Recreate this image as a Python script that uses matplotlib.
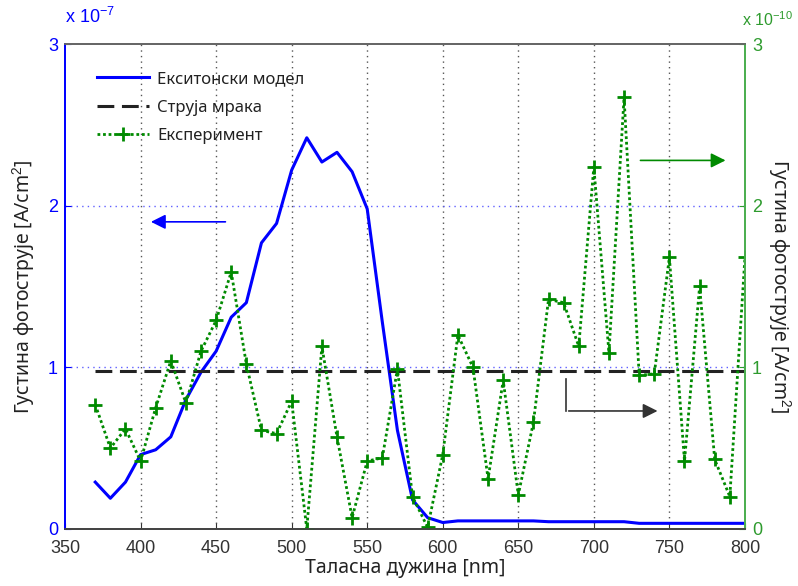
import numpy as np
import matplotlib
matplotlib.use("Agg")
import matplotlib.pyplot as plt

# wavelength grid [nm]
wavelength = np.arange(370, 801, 10)

# exciton model photocurrent density, units of 1e-7 A/cm^2
model = [0.29, 0.19, 0.29, 0.46, 0.49, 0.57, 0.80, 0.97, 1.10, 1.31,
         1.40, 1.77, 1.89, 2.22, 2.42, 2.27, 2.33, 2.21, 1.98, 1.28,
         0.61, 0.18, 0.07, 0.04, 0.05, 0.05, 0.05, 0.05, 0.05, 0.05,
         0.045, 0.045, 0.045, 0.045, 0.045, 0.045, 0.035, 0.035, 0.035, 0.035,
         0.035, 0.035, 0.035, 0.035]

# dark current, units of 1e-7 A/cm^2
dark = 0.98

# measured photocurrent density, units of 1e-10 A/cm^2
experiment = [0.77, 0.50, 0.62, 0.42, 0.75, 1.04, 0.78, 1.10, 1.29, 1.59,
              1.02, 0.61, 0.59, 0.79, 0.00, 1.13, 0.57, 0.07, 0.42, 0.44,
              0.99, 0.20, 0.01, 0.46, 1.20, 1.00, 0.31, 0.92, 0.21, 0.66,
              1.42, 1.40, 1.13, 2.24, 1.09, 2.67, 0.95, 0.96, 1.68, 0.42,
              1.50, 0.43, 0.20, 1.68]

BLUE = "#0000ff"
GREEN = "#008a00"
GREEN_AX = "#2e9b2e"
TXT = ["Noto Sans", "DejaVu Sans"]

plt.rcParams["font.family"] = ["Liberation Sans", "DejaVu Sans"]
plt.rcParams["mathtext.fontset"] = "custom"
plt.rcParams["mathtext.rm"] = "Liberation Sans"
plt.rcParams["mathtext.it"] = "Liberation Sans"

fig = plt.figure(figsize=(7.98, 5.86), dpi=100)
ax = fig.add_axes([0.0815, 0.0973, 0.852, 0.8276])
ax2 = ax.twinx()

# grid: grey verticals, blue dotted horizontals of the left axis
for x in [400, 450, 500, 550, 600, 650, 700, 750]:
    ax.axvline(x, color="#555555", ls=(0, (1, 3)), lw=1, zorder=0)
for y in [1, 2]:
    ax.axhline(y, color="#6060ff", ls=(0, (1, 3)), lw=1, zorder=0)

l1, = ax.plot(wavelength, model, color=BLUE, lw=2.2, label="Екситонски модел")
l2, = ax.plot(wavelength, [dark] * len(wavelength), color="#222222", lw=2.2,
              ls=(0, (5.5, 2.5)), label="Струја мрака")
l3, = ax2.plot(wavelength, experiment, color=GREEN, lw=2, ls=(0, (1, 1)),
               marker="+", markersize=10, markeredgewidth=2,
               label="Експеримент")

ax.set_xlim(350, 800)
ax.set_ylim(0, 3)
ax2.set_ylim(0, 3)
ax.set_xticks(range(350, 801, 50))
ax.set_yticks([0, 1, 2, 3])
ax2.set_yticks([0, 1, 2, 3])

ax.tick_params(axis="x", direction="in", length=4, labelsize=13, colors="#333333", pad=8)
ax.tick_params(axis="y", direction="in", length=4, labelsize=13, colors=BLUE, pad=5)
ax2.tick_params(axis="y", direction="in", length=4, labelsize=13, colors=GREEN_AX, pad=5)

for a in (ax, ax2):
    a.spines["top"].set_color("#666666")
    a.spines["bottom"].set_color("#444444")
    a.spines["left"].set_color(BLUE)
    a.spines["right"].set_color("#4caf50")
    for s in a.spines.values():
        s.set_linewidth(1.3)

# exponent labels above both y axes
ax.text(0.0, 1.035, r"x 10$^{-7}$", transform=ax.transAxes, ha="left", va="bottom",
        color=BLUE, fontsize=13)
ax2.text(0.996, 1.03, r"x 10$^{-10}$", transform=ax2.transAxes, ha="left", va="bottom",
         color=GREEN_AX, fontsize=11.5)

ax.set_xlabel("Таласна дужина [nm]", fontsize=14, family=TXT, color="#222222", labelpad=1)
ax.set_ylabel("Густина фотострује [A/cm$^2$]", fontsize=14, family=TXT,
              color="#222222", labelpad=8)
ax2.set_ylabel("Густина фотострује [A/cm$^2$]", fontsize=14, family=TXT,
               color="#222222", rotation=270, labelpad=22)

leg = ax.legend(handles=[l1, l2, l3], loc="upper left", frameon=False,
                bbox_to_anchor=(0.025, 0.975), handlelength=3.1, labelspacing=0.75,
                handletextpad=0.5, prop={"family": TXT, "size": 12})
for t in leg.get_texts():
    t.set_color("#222222")

# arrows pointing at the axis each curve belongs to
ax.annotate("", xy=(405, 1.90), xytext=(458, 1.90),
            arrowprops=dict(arrowstyle="-|>", color=BLUE, lw=1.2, mutation_scale=22))
ax.annotate("", xy=(789, 2.28), xytext=(729, 2.28),
            arrowprops=dict(arrowstyle="-|>", color=GREEN, lw=1.2, mutation_scale=22))
ax.plot([681.5, 681.5], [0.93, 0.73], color="#333333", lw=1.2)
ax.annotate("", xy=(744, 0.73), xytext=(681.5, 0.73),
            arrowprops=dict(arrowstyle="-|>", color="#333333", lw=1.2, mutation_scale=22))

fig.savefig("out.png", dpi=100)
